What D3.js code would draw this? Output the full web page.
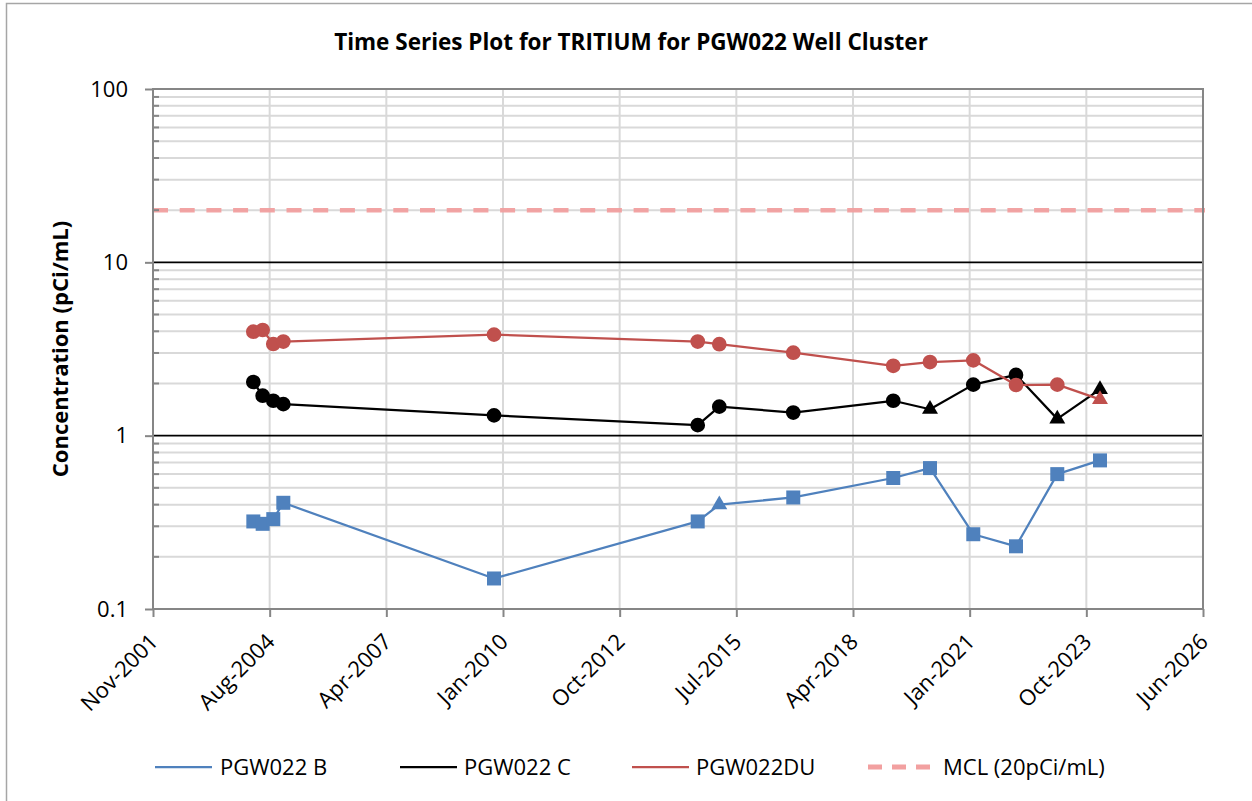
<!DOCTYPE html>
<html>
<head>
<meta charset="utf-8">
<script src="https://cdn.jsdelivr.net/npm/d3@7/dist/d3.min.js"></script>
<style>
  html, body { margin: 0; padding: 0; background: #fff; }
  svg { display: block; font-family: "Open Sans", "Noto Sans", sans-serif; }
</style>
</head>
<body>
<svg id="chart" width="1252" height="801"></svg>
<script>
// Tritium sampling results, PGW022 well cluster
const chartTitle = "Time Series Plot for TRITIUM for PGW022 Well Cluster";
const yTitle = "Concentration (pCi/mL)";

// Axis ticks (date axis stepped in 1000-day intervals)
const xTickDates = ["2001-11-05", "2004-08-01", "2007-04-28", "2010-01-22", "2012-10-18",
                    "2015-07-15", "2018-04-10", "2021-01-04", "2023-10-01", "2026-06-27"];
const yTickValues = [0.1, 1, 10, 100];
const yTickLabels = ["0.1", "1", "10", "100"];

// PGW022 B
const bDates  = ["2004-03-14", "2004-06-02", "2004-09-01", "2004-11-26", "2009-11-06",
                 "2014-08-18", "2015-02-19", "2016-11-14", "2019-03-21", "2020-01-30",
                 "2021-02-04", "2022-02-05", "2023-01-25", "2024-01-26"];
const bValues = [0.32, 0.31, 0.33, 0.41, 0.15, 0.32, 0.40, 0.44, 0.57, 0.65, 0.27, 0.23, 0.60, 0.72];
const bMarks  = ["s", "s", "s", "s", "s", "s", "t", "s", "s", "s", "s", "s", "s", "s"];

// PGW022 C
const cDates  = ["2004-03-14", "2004-06-02", "2004-09-01", "2004-11-26", "2009-11-06",
                 "2014-08-18", "2015-02-19", "2016-11-14", "2019-03-21", "2020-01-30",
                 "2021-02-04", "2022-02-05", "2023-01-25", "2024-01-26"];
const cValues = [2.04, 1.70, 1.59, 1.52, 1.31, 1.15, 1.47, 1.36, 1.59, 1.42, 1.97, 2.24, 1.25, 1.85];
const cMarks  = ["c", "c", "c", "c", "c", "c", "c", "c", "c", "t", "c", "c", "t", "t"];

// PGW022DU
const duDates  = ["2004-03-14", "2004-06-02", "2004-09-01", "2004-11-26", "2009-11-06",
                  "2014-08-18", "2015-02-19", "2016-11-14", "2019-03-21", "2020-01-30",
                  "2021-02-04", "2022-02-05", "2023-01-25", "2024-01-26"];
const duValues = [3.98, 4.07, 3.38, 3.49, 3.83, 3.49, 3.37, 3.01, 2.53, 2.66, 2.72, 1.96, 1.97, 1.62];
const duMarks  = ["c", "c", "c", "c", "c", "c", "c", "c", "c", "c", "c", "c", "c", "t"];

// Maximum contaminant level
const mclDates = ["2001-11-05", "2026-06-27"];
const mclValue = 20;

const seriesNames = ["PGW022 B", "PGW022 C", "PGW022DU", "MCL (20pCi/mL)"];
const seriesColors = ["#4F81BD", "#000000", "#C0504D", "#F2A0A0"];

const parse = d3.utcParse("%Y-%m-%d");
const fmt = d3.utcFormat("%b-%Y");

const svg = d3.select("#chart");
const W = 1252, H = 801;
const plot = { left: 153, right: 1203, top: 89, bottom: 609 };

const x = d3.scaleUtc()
  .domain([parse(xTickDates[0]), parse(xTickDates[xTickDates.length - 1])])
  .range([plot.left, plot.right]);
const y = d3.scaleLog()
  .domain([0.1, 100])
  .range([plot.bottom, plot.top]);

// Outer chart frame
svg.append("rect")
  .attr("x", 6.5).attr("y", 3.5).attr("width", W + 20).attr("height", H + 20)
  .attr("fill", "none").attr("stroke", "#A6A6A6").attr("stroke-width", 1.5);

// Title
svg.append("text")
  .attr("x", 631).attr("y", 50)
  .attr("text-anchor", "middle")
  .attr("font-size", 22.5).attr("font-weight", "bold")
  .text(chartTitle);

const g = svg.append("g");

// Minor horizontal gridlines
const minorVals = y.ticks().filter(v => !yTickValues.some(t => Math.abs(t - v) < 1e-9));
g.selectAll("line.minor").data(minorVals).join("line")
  .attr("class", "minor")
  .attr("x1", plot.left).attr("x2", plot.right)
  .attr("y1", d => y(d)).attr("y2", d => y(d))
  .attr("stroke", "#D9D9D9").attr("stroke-width", 2);

// Vertical gridlines
const xTicks = xTickDates.map(parse);
g.selectAll("line.vgrid").data(xTicks.slice(1, -1)).join("line")
  .attr("class", "vgrid")
  .attr("x1", d => x(d)).attr("x2", d => x(d))
  .attr("y1", plot.top).attr("y2", plot.bottom)
  .attr("stroke", "#D9D9D9").attr("stroke-width", 2);

// Major horizontal gridlines
g.selectAll("line.major").data([1, 10]).join("line")
  .attr("class", "major")
  .attr("x1", plot.left).attr("x2", plot.right)
  .attr("y1", d => y(d)).attr("y2", d => y(d))
  .attr("stroke", "#000").attr("stroke-width", 1.8);

// MCL reference line
g.append("line")
  .attr("x1", x(parse(mclDates[0]))).attr("x2", x(parse(mclDates[1])) + 2)
  .attr("y1", y(mclValue)).attr("y2", y(mclValue))
  .attr("stroke", seriesColors[3]).attr("stroke-width", 4.5)
  .attr("stroke-dasharray", "15,11.7").attr("opacity", 0.95);

// Series
const series = [
  { dates: bDates, values: bValues, marks: bMarks, color: seriesColors[0] },
  { dates: cDates, values: cValues, marks: cMarks, color: seriesColors[1] },
  { dates: duDates, values: duValues, marks: duMarks, color: seriesColors[2] }
];

const symbolFor = {
  s: d3.symbol().type(d3.symbolSquare).size(196),
  c: d3.symbol().type(d3.symbolCircle).size(170),
  t: d3.symbol().type(d3.symbolTriangle).size(110)
};

const line = d3.line().x(d => x(d.date)).y(d => y(d.value));

series.forEach(s => {
  const pts = s.dates.map((d, i) => ({ date: parse(d), value: s.values[i], mark: s.marks[i] }));
  g.append("path")
    .datum(pts)
    .attr("d", line)
    .attr("fill", "none")
    .attr("stroke", s.color)
    .attr("stroke-width", 2.25)
    .attr("stroke-linejoin", "round");
  g.selectAll(null).data(pts).join("path")
    .attr("transform", d => `translate(${x(d.date)},${y(d.value)})`)
    .attr("d", d => symbolFor[d.mark]())
    .attr("fill", s.color);
});

// Plot frame
const axisColor = "#868686";
svg.append("rect")
  .attr("x", plot.left).attr("y", plot.top)
  .attr("width", plot.right - plot.left).attr("height", plot.bottom - plot.top)
  .attr("fill", "none").attr("stroke", axisColor).attr("stroke-width", 2);

// Y axis: major ticks outward, minor ticks inward
const yAxis = d3.axisLeft(y)
  .tickValues(yTickValues)
  .tickSize(8)
  .tickPadding(17)
  .tickFormat((d, i) => yTickLabels[i]);
const ya = svg.append("g").attr("transform", `translate(${plot.left},0)`).call(yAxis);
ya.select(".domain").remove();
ya.selectAll(".tick line").attr("stroke", axisColor).attr("stroke-width", 2);
ya.selectAll(".tick text").attr("font-size", 22).attr("fill", "#000")
  .attr("font-family", "'Open Sans', 'Noto Sans', sans-serif");

svg.append("g").selectAll("line").data(minorVals).join("line")
  .attr("x1", plot.left).attr("x2", plot.left + 6)
  .attr("y1", d => y(d)).attr("y2", d => y(d))
  .attr("stroke", axisColor).attr("stroke-width", 2);

// X axis with rotated date labels
const xAxis = d3.axisBottom(x)
  .tickValues(xTicks)
  .tickSize(8)
  .tickFormat(fmt);
const xa = svg.append("g").attr("transform", `translate(0,${plot.bottom})`).call(xAxis);
xa.select(".domain").remove();
xa.selectAll(".tick line").attr("stroke", axisColor).attr("stroke-width", 2);
xa.selectAll(".tick text")
  .attr("font-size", 22).attr("fill", "#000")
  .attr("font-family", "'Open Sans', 'Noto Sans', sans-serif")
  .attr("text-anchor", "end")
  .attr("dy", null)
  .attr("y", 0)
  .attr("transform", "translate(6,34) rotate(-45)");

// Y axis title
svg.append("text")
  .attr("transform", "translate(68,349) rotate(-90)")
  .attr("text-anchor", "middle")
  .attr("font-size", 22).attr("font-weight", "bold")
  .text(yTitle);

// Legend
const legendItems = [
  { name: seriesNames[0], color: seriesColors[0], x1: 155, x2: 212, tx: 220, dash: null },
  { name: seriesNames[1], color: seriesColors[1], x1: 400, x2: 457, tx: 464, dash: null },
  { name: seriesNames[2], color: seriesColors[2], x1: 632, x2: 689, tx: 696, dash: null },
  { name: seriesNames[3], color: seriesColors[3], x1: 868, x2: 936, tx: 943, dash: "14,10" }
];
const lg = svg.append("g");
legendItems.forEach(it => {
  lg.append("line")
    .attr("x1", it.x1).attr("x2", it.x2).attr("y1", 767).attr("y2", 767)
    .attr("stroke", it.color)
    .attr("stroke-width", it.dash ? 5 : 2.25)
    .attr("stroke-dasharray", it.dash);
  lg.append("text")
    .attr("x", it.tx).attr("y", 775)
    .attr("font-size", 22)
    .text(it.name);
});
</script>
</body>
</html>
